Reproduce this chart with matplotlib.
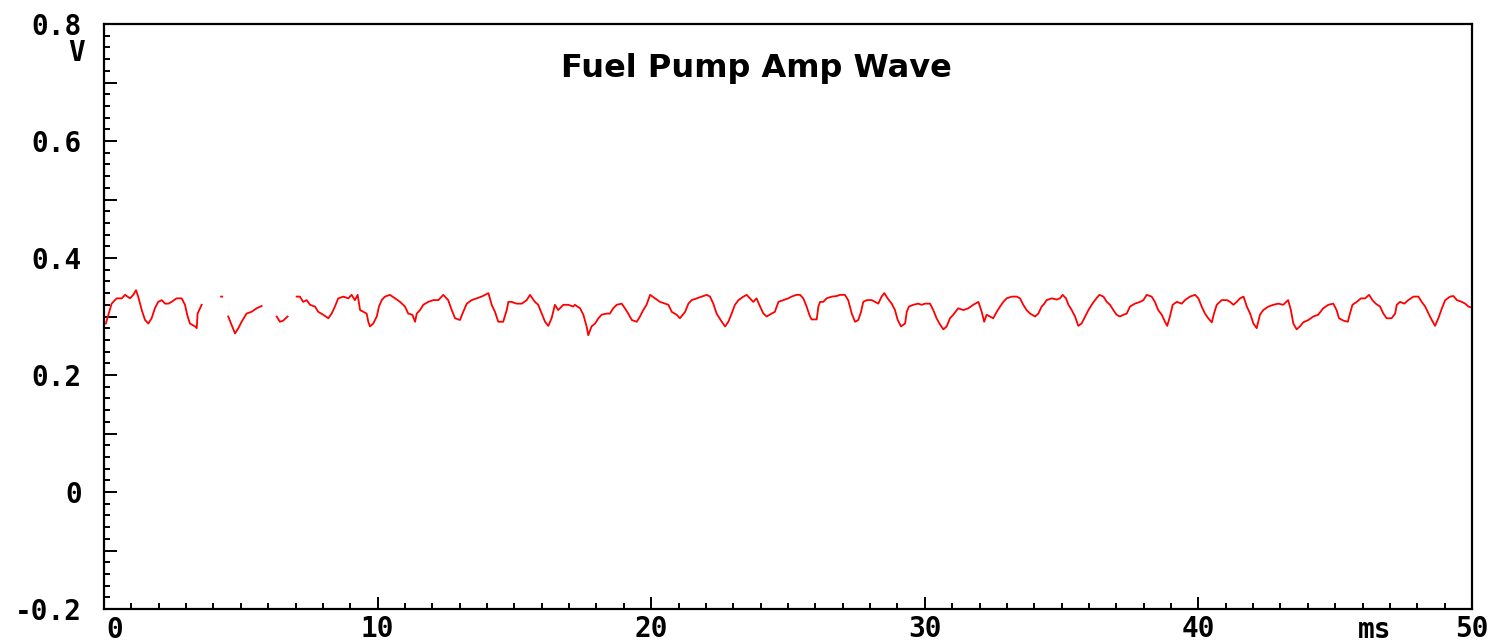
import numpy as np
import matplotlib
matplotlib.use('Agg')
import matplotlib.pyplot as plt
from matplotlib.ticker import MultipleLocator, FuncFormatter

# time (ms) and amplitude (V), nan = dropout
time_ms = [
    0.07, 0.16, 0.28, 0.46, 0.65, 0.77, 0.95, 1.07, 1.17, 1.25, 1.38, 1.50, 1.62, 1.74, 1.86, 1.98,
    2.11, 2.23, 2.35, 2.47, 2.65, 2.84, 2.96, 3.04, 3.14, 3.33, 3.39, 3.42, 3.51, 3.57,
    3.90, 4.28, 4.32, 4.42,
    4.54, 4.66, 4.79, 4.91, 5.03, 5.21, 5.39, 5.58, 5.76, 6.00,
    6.31, 6.43, 6.55, 6.71, 6.90,
    7.04, 7.16, 7.28, 7.41, 7.53, 7.71, 7.83, 8.01, 8.20, 8.32, 8.44, 8.56, 8.75, 8.93,
    9.05, 9.17, 9.27, 9.36, 9.48, 9.60, 9.66, 9.72, 9.84, 9.97, 10.05, 10.15, 10.27, 10.45,
    10.64, 10.82, 11.00, 11.12, 11.27, 11.37, 11.43, 11.55, 11.67, 11.85, 12.04, 12.22,
    12.40, 12.58, 12.71, 12.83, 13.01, 13.13, 13.26, 13.44, 13.62, 13.80, 13.93, 14.05,
    14.17, 14.29, 14.41, 14.59, 14.72, 14.78, 14.90, 15.08, 15.27, 15.45, 15.57, 15.75,
    15.87, 16.00, 16.12, 16.24, 16.36, 16.48, 16.60, 16.79, 16.97, 17.15, 17.21, 17.40,
    17.52, 17.64, 17.70, 17.82, 17.95, 18.07, 18.19, 18.37, 18.49, 18.61, 18.74, 18.92,
    19.04, 19.16, 19.29, 19.47, 19.59, 19.71, 19.83, 19.96, 20.14, 20.32, 20.50, 20.63,
    20.75, 20.93, 21.05, 21.24, 21.36, 21.48, 21.66, 21.85, 22.03, 22.15, 22.27, 22.39,
    22.58, 22.70, 22.82, 22.94, 23.06, 23.19, 23.37, 23.49, 23.61, 23.73, 23.85, 23.98,
    24.10, 24.22, 24.40, 24.52, 24.65, 24.83, 25.01, 25.13, 25.31, 25.44, 25.56, 25.68,
    25.78, 25.86, 26.05, 26.11, 26.17, 26.29, 26.41, 26.60, 26.78, 26.90, 27.08, 27.20,
    27.33, 27.45, 27.57, 27.67, 27.75, 27.88, 28.06, 28.18, 28.30, 28.42, 28.52, 28.64,
    28.79, 28.91, 29.01, 29.13, 29.28, 29.34, 29.42, 29.58, 29.76, 29.88, 30.01, 30.19,
    30.31, 30.43, 30.56, 30.68, 30.80, 30.92, 31.04, 31.22, 31.41, 31.59, 31.77, 31.96,
    32.08, 32.17, 32.26, 32.38, 32.50, 32.63, 32.75, 32.87, 32.99, 33.18, 33.36, 33.48,
    33.60, 33.72, 33.85, 34.03, 34.15, 34.27, 34.37, 34.45, 34.64, 34.82, 34.94, 35.04,
    35.16, 35.25, 35.37, 35.49, 35.61, 35.73, 35.86, 35.98, 36.10, 36.22, 36.38, 36.53,
    36.65, 36.77, 36.89, 37.01, 37.13, 37.26, 37.38, 37.50, 37.68, 37.87, 37.99, 38.11,
    38.29, 38.41, 38.53, 38.66, 38.78, 38.86, 38.96, 39.06, 39.21, 39.39, 39.51, 39.69,
    39.88, 40.00, 40.12, 40.24, 40.36, 40.49, 40.57, 40.67, 40.85, 41.04, 41.16, 41.28,
    41.40, 41.52, 41.65, 41.77, 41.89, 42.01, 42.13, 42.25, 42.37, 42.56, 42.74, 42.92,
    43.10, 43.28, 43.38, 43.47, 43.59, 43.71, 43.83, 44.02, 44.20, 44.38, 44.56, 44.75,
    44.93, 45.05, 45.14, 45.30, 45.46, 45.54, 45.63, 45.79, 45.94, 46.09, 46.24, 46.36,
    46.48, 46.64, 46.76, 46.88, 47.06, 47.19, 47.25, 47.37, 47.53, 47.67, 47.86, 48.04,
    48.16, 48.29, 48.41, 48.53, 48.65, 48.77, 48.90, 49.02, 49.20, 49.32, 49.45, 49.63,
    49.75, 49.87, 49.93,
]
volts = [
    0.288, 0.303, 0.322, 0.331, 0.331, 0.337, 0.331, 0.337, 0.345, 0.334, 0.311, 0.294, 0.288, 0.297, 0.314, 0.325,
    0.328, 0.322, 0.322, 0.325, 0.331, 0.331, 0.320, 0.303, 0.288, 0.283, 0.280, 0.305, 0.314, 0.320,
    np.nan, 0.334, 0.334, np.nan,
    0.300, 0.286, 0.271, 0.280, 0.291, 0.305, 0.308, 0.314, 0.318, np.nan,
    0.300, 0.291, 0.293, 0.300, np.nan,
    0.334, 0.334, 0.325, 0.328, 0.320, 0.317, 0.308, 0.303, 0.297, 0.305, 0.317, 0.331, 0.334, 0.331,
    0.337, 0.328, 0.337, 0.311, 0.308, 0.305, 0.291, 0.283, 0.288, 0.300, 0.317, 0.328, 0.334, 0.337,
    0.331, 0.325, 0.317, 0.305, 0.303, 0.291, 0.305, 0.311, 0.320, 0.325, 0.328, 0.328,
    0.337, 0.328, 0.311, 0.297, 0.294, 0.308, 0.322, 0.328, 0.331, 0.334, 0.337, 0.340,
    0.320, 0.308, 0.291, 0.291, 0.311, 0.325, 0.325, 0.322, 0.322, 0.328, 0.337, 0.325,
    0.320, 0.305, 0.291, 0.284, 0.297, 0.320, 0.311, 0.320, 0.320, 0.317, 0.320, 0.314,
    0.303, 0.283, 0.268, 0.283, 0.288, 0.297, 0.303, 0.305, 0.305, 0.314, 0.320, 0.322,
    0.314, 0.305, 0.294, 0.291, 0.300, 0.311, 0.320, 0.337, 0.331, 0.325, 0.322, 0.320,
    0.308, 0.303, 0.297, 0.308, 0.322, 0.328, 0.331, 0.334, 0.337, 0.334, 0.322, 0.305,
    0.291, 0.283, 0.291, 0.305, 0.320, 0.328, 0.334, 0.337, 0.331, 0.325, 0.331, 0.317,
    0.305, 0.300, 0.305, 0.308, 0.325, 0.328, 0.331, 0.334, 0.337, 0.337, 0.331, 0.317,
    0.303, 0.295, 0.295, 0.317, 0.325, 0.325, 0.331, 0.334, 0.335, 0.337, 0.337, 0.328,
    0.305, 0.291, 0.294, 0.308, 0.325, 0.328, 0.328, 0.325, 0.322, 0.334, 0.340, 0.331,
    0.322, 0.311, 0.294, 0.283, 0.288, 0.308, 0.317, 0.320, 0.322, 0.320, 0.322, 0.322,
    0.311, 0.297, 0.286, 0.278, 0.283, 0.297, 0.303, 0.314, 0.311, 0.314, 0.320, 0.325,
    0.308, 0.291, 0.303, 0.300, 0.297, 0.308, 0.317, 0.325, 0.331, 0.334, 0.334, 0.331,
    0.320, 0.311, 0.305, 0.300, 0.305, 0.317, 0.322, 0.328, 0.331, 0.329, 0.331, 0.337,
    0.331, 0.320, 0.311, 0.300, 0.284, 0.288, 0.300, 0.311, 0.320, 0.328, 0.337, 0.334,
    0.325, 0.320, 0.311, 0.303, 0.300, 0.303, 0.305, 0.317, 0.322, 0.325, 0.328, 0.337,
    0.334, 0.325, 0.311, 0.303, 0.291, 0.284, 0.300, 0.320, 0.325, 0.322, 0.328, 0.334,
    0.337, 0.331, 0.317, 0.305, 0.297, 0.290, 0.305, 0.320, 0.328, 0.328, 0.325, 0.320,
    0.325, 0.331, 0.334, 0.317, 0.305, 0.288, 0.280, 0.303, 0.311, 0.317, 0.320, 0.322,
    0.320, 0.328, 0.311, 0.288, 0.278, 0.283, 0.290, 0.294, 0.300, 0.303, 0.314, 0.320,
    0.322, 0.311, 0.297, 0.293, 0.291, 0.305, 0.320, 0.325, 0.331, 0.331, 0.337, 0.328,
    0.322, 0.317, 0.305, 0.297, 0.297, 0.305, 0.320, 0.325, 0.322, 0.328, 0.334, 0.334,
    0.325, 0.317, 0.305, 0.294, 0.284, 0.297, 0.314, 0.328, 0.334, 0.335, 0.328, 0.325,
    0.322, 0.317, 0.316,
]
y_labels = {0.8: '0.8', 0.6: '0.6', 0.4: '0.4', 0.2: '0.2', 0.0: '0', -0.2: '-0.2'}
x_labels = {10: '10', 20: '20', 30: '30', 40: '40', 50: '50'}

W, H = 1493, 643
fig = plt.figure(figsize=(W / 100, H / 100), dpi=100)
ax = fig.add_axes([104 / W, 1 - 609 / H, (1472 - 104) / W, (609 - 24) / H])

ax.plot(time_ms, volts, color='#ff0000', lw=1.3)

ax.set_xlim(0, 50)
ax.set_ylim(-0.2, 0.8)
for s in ax.spines.values():
    s.set_linewidth(1.6)

fs = 20
tick_font = dict(family='DejaVu Sans Mono', weight='bold', size=fs)
ax.xaxis.set_major_locator(MultipleLocator(10))
ax.xaxis.set_minor_locator(MultipleLocator(1))
ax.yaxis.set_major_locator(MultipleLocator(0.1))
ax.yaxis.set_minor_locator(MultipleLocator(0.02))

ax.yaxis.set_major_formatter(FuncFormatter(lambda v, p: y_labels.get(round(v, 2), '')))
ax.xaxis.set_major_formatter(FuncFormatter(lambda v, p: x_labels.get(int(round(v)), '')))
ax.tick_params(which='both', direction='in', width=1.4, color='black')
ax.tick_params(which='major', length=9)
ax.tick_params(which='minor', length=4.5)
ax.tick_params(axis='x', pad=4)
ax.tick_params(axis='y', pad=16)
ax.tick_params(labelsize=fs)
for lab in ax.get_xticklabels() + ax.get_yticklabels():
    lab.set_family('DejaVu Sans Mono')
    lab.set_weight('bold')

# the "0" on the time axis sits just right of the origin
ax.annotate('0', xy=(0, 0), xycoords=('data', 'axes fraction'), xytext=(2, -5),
            textcoords='offset points', ha='left', va='top', **tick_font)

fig.text(77 / W, 1 - 53 / H, 'V', ha='center', va='center', **tick_font)
fig.text(1375 / W, 1 - 630 / H, 'ms', ha='center', va='center', **tick_font)
fig.text(756 / W, 1 - 77 / H, 'Fuel Pump Amp Wave', ha='center', va='baseline',
         family='DejaVu Sans', fontsize=23, weight='bold')

fig.savefig('out.png', dpi=100)
